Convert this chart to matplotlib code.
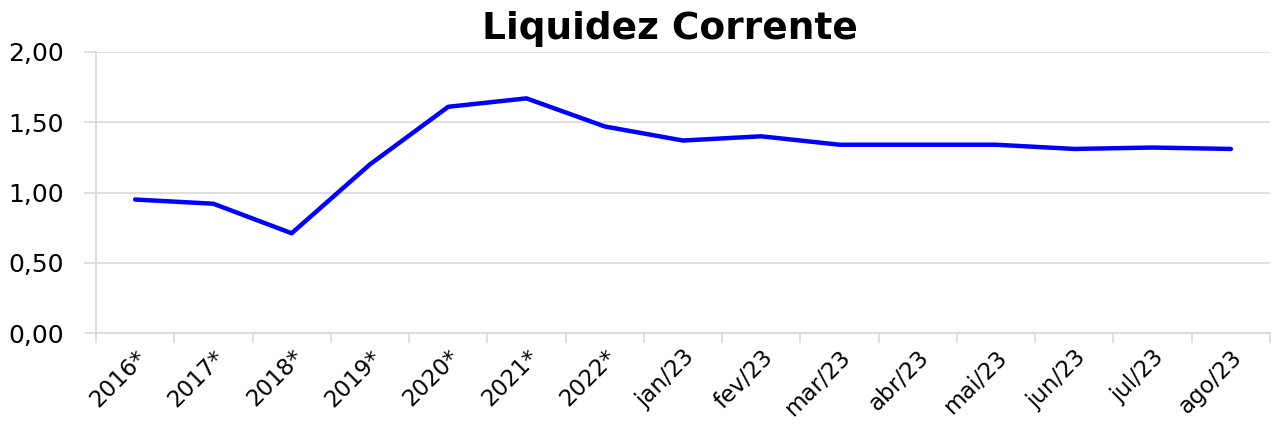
import matplotlib
matplotlib.use('Agg')
import matplotlib.pyplot as plt
import numpy as np

categorias = ['2016*', '2017*', '2018*', '2019*', '2020*', '2021*', '2022*',
              'jan/23', 'fev/23', 'mar/23', 'abr/23', 'mai/23', 'jun/23', 'jul/23', 'ago/23']
liquidez = [0.95, 0.92, 0.71, 1.20, 1.61, 1.67, 1.47,
            1.37, 1.40, 1.34, 1.34, 1.34, 1.31, 1.32, 1.31]

fig = plt.figure(figsize=(12.74, 4.30), dpi=100)
ax = fig.add_axes([96 / 1274, 1 - 333 / 430, (1270 - 96) / 1274, (333 - 52) / 430])

x = np.arange(len(categorias))
ax.plot(x, liquidez, color='#0000FF', linewidth=3.2, solid_capstyle='round', solid_joinstyle='round')

ax.set_xlim(-0.5, len(categorias) - 0.5)
ax.set_ylim(0, 2)
ax.set_yticks([0, 0.5, 1.0, 1.5, 2.0])
ax.set_yticklabels(['0,00', '0,50', '1,00', '1,50', '2,00'], fontsize=18)
ax.yaxis.grid(True, color='#D9D9D9', linewidth=1.2)
ax.set_axisbelow(True)
ax.tick_params(axis='y', length=9, color='#D9D9D9', width=1.2, pad=14)

# ticks nas fronteiras das categorias, rótulos no centro
ax.set_xticks(np.arange(-0.5, len(categorias), 1))
ax.set_xticklabels([])
ax.set_xticks(x, minor=True)
ax.set_xticklabels(categorias, minor=True, rotation=45, ha='right', rotation_mode='anchor', fontsize=16.5)
ax.tick_params(axis='x', which='major', length=7, color='#D9D9D9', width=1.2)
ax.tick_params(axis='x', which='minor', length=0, pad=9)

for s in ['top', 'right']:
    ax.spines[s].set_visible(False)
ax.spines['left'].set_color('#D9D9D9')
ax.spines['bottom'].set_color('#D9D9D9')
ax.spines['left'].set_linewidth(1.2)
ax.spines['bottom'].set_linewidth(1.2)

fig.text(0.526, 0.932, 'Liquidez Corrente', ha='center', va='center', fontsize=27, fontweight='bold')

fig.savefig('out.png', dpi=100)
